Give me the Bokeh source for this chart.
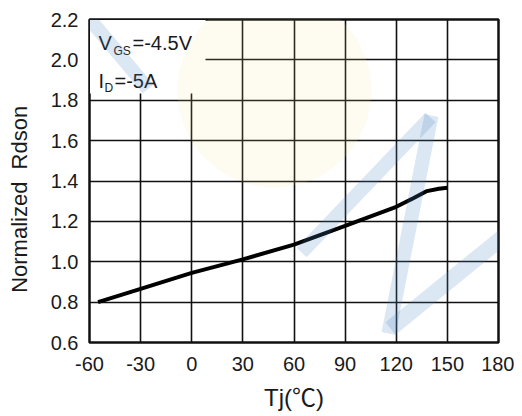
from bokeh.plotting import figure
from bokeh.models import FixedTicker, Range1d, Label, PolyAnnotation
from bokeh.embed import file_html
from bokeh.resources import INLINE

# ---- data ----
tj = [-55, -30, 0, 30, 60, 90, 120, 130, 138, 145, 150]
rdson = [0.80, 0.866, 0.945, 1.012, 1.085, 1.178, 1.272, 1.315, 1.35, 1.362, 1.367]
x_ticks = [-60, -30, 0, 30, 60, 90, 120, 150, 180]
x_tick_labels = ["-60", "-30", "0", "30", "60", "90", "120", "150", "180"]
y_ticks = [0.6, 0.8, 1.0, 1.2, 1.4, 1.6, 1.8, 2.0, 2.2]
y_tick_labels = ["0.6", "0.8", "1.0", "1.2", "1.4", "1.6", "1.8", "2.0", "2.2"]

FONT = "Liberation Sans"
FL, FT, FW, FH = 89, 19, 409, 323  # frame in canvas px

p = figure(frame_width=FW, frame_height=FH, output_backend="svg", toolbar_location=None,
           x_range=Range1d(-60, 180), y_range=Range1d(0.6, 2.2),
           min_border_left=FL, min_border_top=FT,
           min_border_right=16, min_border_bottom=74)
p.background_fill_color = "white"
p.border_fill_color = "white"
p.outline_line_color = "#111111"
p.outline_line_width = 2.5

# helpers: canvas pixel -> data
def dx(px):
    return -60 + (px - 89) * 240.0 / 409.0

def dy(py):
    return 0.6 + (342 - py) * 1.6 / 323.0

for ax in (p.xaxis, p.yaxis):
    ax.axis_line_color = None
    ax.major_tick_line_color = None
    ax.minor_tick_line_color = None
    ax.major_tick_out = 0
    ax.major_tick_in = 0
    ax.major_label_text_font = FONT
    ax.major_label_text_font_size = "20px"
    ax.major_label_text_color = "#1a1a1a"
    ax.axis_label_text_font = FONT + ", Noto Sans CJK SC"
    ax.axis_label_text_font_style = "normal"
    ax.axis_label_text_color = "#1a1a1a"

p.xaxis.axis_label_text_font_size = "24px"
p.yaxis.axis_label_text_font_size = "22px"
p.xaxis.ticker = FixedTicker(ticks=x_ticks)
p.xaxis.major_label_overrides = {t: l for t, l in zip(x_ticks, x_tick_labels)}
p.yaxis.ticker = FixedTicker(ticks=y_ticks)
p.yaxis.major_label_overrides = {t: l for t, l in zip(y_ticks, y_tick_labels)}
p.xaxis.major_label_standoff = 14
p.yaxis.major_label_standoff = 11
p.xaxis.axis_label = "Tj(\u2103)"
p.yaxis.axis_label = "Normalized\u00a0\u00a0Rdson" + "\u00a0" * 6
p.xaxis.axis_label_standoff = 10
p.yaxis.axis_label_standoff = 16

p.grid.grid_line_color = "#111111"
p.grid.grid_line_width = 1.6
p.xgrid.ticker = FixedTicker(ticks=x_ticks)
p.ygrid.ticker = FixedTicker(ticks=y_ticks)

# white box behind the condition text
p.quad(left=[dx(89.5)], right=[dx(205)], bottom=[dy(93)], top=[dy(19.5)],
       fill_color="white", line_color=None)

# curve
p.line(tj, rdson, line_color="black", line_width=4)

# watermark (decorative)
p.scatter([dx(274)], [dy(90)], size=194, marker="circle",
          fill_color="#f5e28a", fill_alpha=0.13, line_color=None)
stripes_px = [
    [(75.0, -9.0), (153.0, 84.0), (142.3, 92.8), (64.3, -0.2)],
    [(306.1, 256.8), (435.1, 121.8), (424.9, 112.2), (295.9, 247.2)],
    [(437.9, 116.4), (394.9, 334.4), (381.1, 331.6), (424.1, 113.6)],
    [(395.0, 334.2), (535.0, 220.2), (525.0, 207.8), (385.0, 321.8)],
]
for s in stripes_px:
    p.add_layout(PolyAnnotation(xs=[dx(a) for a, b in s], ys=[dy(b) for a, b in s],
                                fill_color="#4a86bd", fill_alpha=0.2,
                                line_color=None, level="overlay"))

# condition text
def lab(px, py, txt, size):
    p.add_layout(Label(x=dx(px), y=dy(py), text=txt, text_font=FONT,
                       text_font_size=size, text_color="#1a1a1a",
                       text_baseline="alphabetic", text_align="left"))

lab(98, 42, "V", "20px")
lab(113, 50, "GS", "12px")
lab(132, 42, "=-4.5V", "20px")
lab(98, 80, "I", "20px")
lab(104, 87, "D", "12px")
lab(114, 80, "=-5A", "20px")

open("out.html", "w").write(file_html(p, INLINE))
